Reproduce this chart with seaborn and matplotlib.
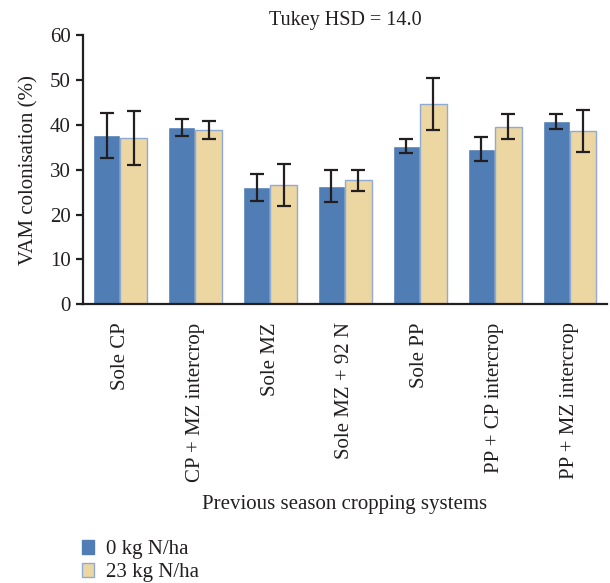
import pandas as pd
import matplotlib.pyplot as plt
import seaborn as sns
from matplotlib.patches import Patch
from matplotlib.ticker import FixedLocator

# data
systems = ["Sole CP", "CP + MZ intercrop", "Sole MZ", "Sole MZ + 92 N",
           "Sole PP", "PP + CP intercrop", "PP + MZ intercrop"]
levels = ["0 kg N/ha", "23 kg N/ha"]
vam_0n = [37.7, 39.4, 26.1, 26.3, 35.3, 34.6, 40.8]
vam_23n = [37.0, 38.9, 26.6, 27.6, 44.7, 39.6, 38.6]
err_0n = [5.0, 1.9, 3.0, 3.6, 1.5, 2.7, 1.7]
err_23n = [6.0, 2.0, 4.7, 2.4, 5.8, 2.85, 4.6]

df = pd.DataFrame({
    "system": systems * 2,
    "level": [levels[0]] * len(systems) + [levels[1]] * len(systems),
    "vam": vam_0n + vam_23n,
    "err": err_0n + err_23n,
})

sns.set_style("white")
plt.rcParams["font.family"] = ["Liberation Serif", "DejaVu Serif"]
plt.rcParams["font.size"] = 15

blue = "#4f7db4"
tan = "#ecd6a2"
dark = "#231f20"

fig = plt.figure(figsize=(6.1, 5.83), dpi=100)
ax = fig.add_axes([0.136, 0.478, 0.859, 0.462])

sns.barplot(data=df, x="system", y="vam", hue="level", order=systems,
            hue_order=levels, palette=[blue, tan], width=0.72, gap=0,
            errorbar=None, saturation=1, legend=False, ax=ax)

# tan bars get a thin blue outline
for bar in ax.containers[1]:
    bar.set_edgecolor("#8fabd2")
    bar.set_linewidth(1.0)

# error bars at the bar centres
for cont, errs in zip(ax.containers, [err_0n, err_23n]):
    xs = [b.get_x() + b.get_width() / 2 for b in cont]
    hs = [b.get_height() for b in cont]
    ax.errorbar(xs, hs, yerr=errs, fmt="none", ecolor=dark,
                elinewidth=1.6, capsize=5, capthick=1.6, zorder=5)

ax.set_xlim(-0.5, len(systems) - 0.5)
ax.set_ylim(0, 60)
ax.set_yticks(range(0, 61, 10))
ax.set_title("Tukey HSD = 14.0", fontsize=14.5, pad=7, color=dark)
ax.set_ylabel("VAM colonisation (%)", fontsize=15, labelpad=8, color=dark)
ax.set_xlabel("Previous season cropping systems", fontsize=15, labelpad=10, color=dark)

ax.set_xticks(range(len(systems)))
ax.set_xticklabels(systems, rotation=90, va="top")
ax.xaxis.set_minor_locator(FixedLocator([i - 0.5 for i in range(len(systems) + 1)]))
ax.tick_params(axis="x", which="major", length=0, pad=13, labelsize=15, colors=dark)
ax.tick_params(axis="x", which="minor", length=5, width=1.6, color=dark, direction="out")
ax.tick_params(axis="y", length=5, width=1.6, color=dark, labelsize=15,
               labelcolor=dark, left=True, direction="out", pad=4)

for side in ["top", "right"]:
    ax.spines[side].set_visible(False)
for side in ["left", "bottom"]:
    ax.spines[side].set_color(dark)
    ax.spines[side].set_linewidth(1.6)

handles = [Patch(facecolor=blue, edgecolor=blue),
           Patch(facecolor=tan, edgecolor="#8fabd2")]
fig.legend(handles, levels, loc="lower left", bbox_to_anchor=(0.11, -0.024),
           frameon=False, fontsize=15, handlelength=0.6, handleheight=0.6,
           handletextpad=0.55, labelspacing=0.2, borderpad=0.2,
           labelcolor=dark)

fig.savefig("out.png", dpi=100)
